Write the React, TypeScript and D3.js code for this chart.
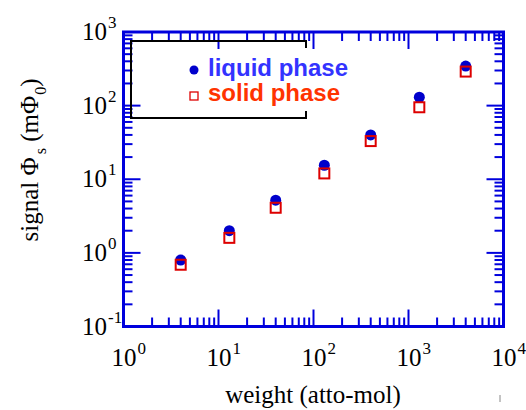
import React from "react";
import * as d3 from "d3";

// weight (atto-mol) and signal values
const weights = [4, 13, 40, 130, 400, 1300, 4000];
const liquidPhase = [0.8, 2.0, 5.2, 15.5, 40, 130, 345];
const solidPhase = [0.69, 1.6, 4.1, 12, 33, 95, 290];

const xDecades = [0, 1, 2, 3, 4];
const yDecades = [-1, 0, 1, 2, 3];

const W = 526;
const H = 410;
const frame = { left: 123.5, right: 503.5, top: 32, bottom: 326.5 };
const blue = "#0000dd";
const serif = "'Liberation Serif', 'Times New Roman', serif";
const sans = "'Liberation Sans', Arial, sans-serif";

export default function App() {
  const x = d3.scaleLog().domain([1, 1e4]).range([frame.left, frame.right]);
  const y = d3.scaleLog().domain([0.1, 1000]).range([frame.bottom, frame.top]);

  const isMajor = (v: number) => Math.abs(Math.log10(v) - Math.round(Math.log10(v))) < 1e-9;
  const xTicks = x.ticks().filter((v) => v > 1 && v < 1e4);
  const yTicks = y.ticks().filter((v) => v > 0.1 && v < 1000);

  const majLen = 17;
  const minLen = 9;

  return (
    <svg
      width={W}
      height={H}
      style={{ position: "absolute", left: 0, top: 0, background: "#fff" }}
    >
      {/* ticks, inside on all four sides */}
      <g stroke={blue} strokeWidth={2}>
        {xTicks.map((v, i) => {
          const l = isMajor(v) ? majLen : minLen;
          return (
            <g key={"xt" + i}>
              <line x1={x(v)} x2={x(v)} y1={frame.bottom} y2={frame.bottom - l} />
              <line x1={x(v)} x2={x(v)} y1={frame.top} y2={frame.top + l} />
            </g>
          );
        })}
        {yTicks.map((v, i) => {
          const l = isMajor(v) ? majLen : minLen;
          return (
            <g key={"yt" + i}>
              <line x1={frame.left} x2={frame.left + l} y1={y(v)} y2={y(v)} />
              <line x1={frame.right} x2={frame.right - l} y1={y(v)} y2={y(v)} />
            </g>
          );
        })}
      </g>
      <rect
        x={frame.left}
        y={frame.top}
        width={frame.right - frame.left}
        height={frame.bottom - frame.top}
        fill="none"
        stroke={blue}
        strokeWidth={3}
      />

      {/* x tick labels */}
      {xDecades.map((d) => (
        <text
          key={"xl" + d}
          x={x(Math.pow(10, d)) - 12}
          y={366}
          fontFamily={serif}
          fontSize={25}
          fill="#000"
        >
          10
          <tspan dx={1} dy={-12} fontSize={17}>
            {d}
          </tspan>
        </text>
      ))}

      {/* y tick labels */}
      {yDecades.map((d) => (
        <text
          key={"yl" + d}
          x={82}
          y={y(Math.pow(10, d)) + 8}
          fontFamily={serif}
          fontSize={25}
          fill="#000"
        >
          10
          <tspan dx={1} dy={-12} fontSize={17}>
            {d}
          </tspan>
        </text>
      ))}

      {/* axis titles */}
      <text
        x={313}
        y={403}
        textAnchor="middle"
        fontFamily={serif}
        fontSize={25}
        fill="#000"
      >
        weight (atto-mol)
      </text>
      <text
        transform="translate(38,160) rotate(-90)"
        textAnchor="middle"
        fontFamily={serif}
        fontSize={25}
        fill="#000"
      >
        signal Φ
        <tspan dx={3} dy={8} fontSize={16}>
          s
        </tspan>
        <tspan dy={-8}> (mΦ</tspan>
        <tspan dx={1} dy={8} fontSize={16}>
          0
        </tspan>
        <tspan dy={-8}>)</tspan>
      </text>
      <line x1={500} x2={500} y1={395} y2={402} stroke="#888" strokeWidth={1} />

      {/* legend box, right side only partly drawn */}
      <g stroke="#000" strokeWidth={2} fill="none">
        <path d="M306,48 V41 H131 V118 H306 V111" />
      </g>
      <circle cx={194} cy={70} r={4.5} fill="#0000cc" />
      <rect x={190} y={92} width={8} height={8} fill="none" stroke="#dd0000" strokeWidth={1.3} />
      <text x={208} y={76} fontFamily={sans} fontWeight="bold" fontSize={24} fill="#3333ff">
        liquid phase
      </text>
      <text x={208} y={101} fontFamily={sans} fontWeight="bold" fontSize={24} fill="#ff3300">
        solid phase
      </text>

      {/* data */}
      {weights.map((w, i) => (
        <circle key={"lq" + i} cx={x(w)} cy={y(liquidPhase[i])} r={5.5} fill="#0000cc" />
      ))}
      {weights.map((w, i) => (
        <rect
          key={"sd" + i}
          x={x(w) - 5}
          y={y(solidPhase[i]) - 5}
          width={10}
          height={10}
          fill="none"
          stroke="#dd0000"
          strokeWidth={2}
        />
      ))}
    </svg>
  );
}
